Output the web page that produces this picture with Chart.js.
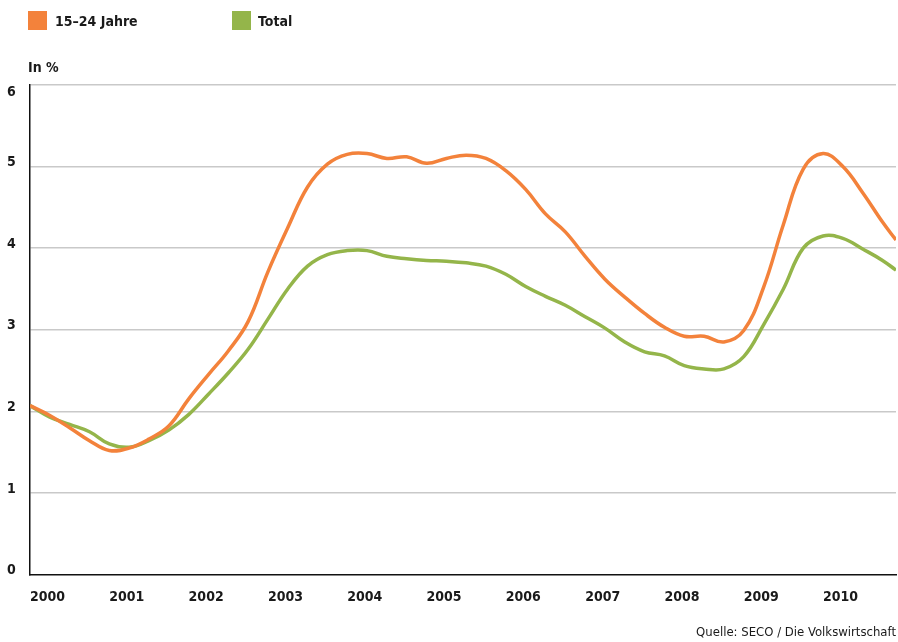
<!DOCTYPE html>
<html lang="de">
<head>
    <meta charset="UTF-8">
    <title>Arbeitslosenquote</title>
    <style>
        body { margin: 0; background: #fff; }
        #wrap { width: 898px; height: 642px; }
    </style>
</head>
<body>
<div id="wrap">
    <canvas id="myChart"></canvas>
</div>

<script src="https://cdn.jsdelivr.net/npm/chart.js"></script>

<script>
    // Zeitpunkte (Quartale, Jahr als Dezimalzahl)
    const times = [
        2000.00, 2000.25, 2000.50, 2000.75,
        2001.00, 2001.25, 2001.50, 2001.75,
        2002.00, 2002.25, 2002.50, 2002.75,
        2003.00, 2003.25, 2003.50, 2003.75,
        2004.00, 2004.25, 2004.50, 2004.75,
        2005.00, 2005.25, 2005.50, 2005.75,
        2006.00, 2006.25, 2006.50, 2006.75,
        2007.00, 2007.25, 2007.50, 2007.75,
        2008.00, 2008.25, 2008.50, 2008.75,
        2009.00, 2009.25, 2009.50, 2009.75,
        2010.00, 2010.25, 2010.50, 2010.75, 2010.92
    ];

    // 15–24 Jahre
    const youth = [
        2.07, 1.95, 1.80, 1.64,
        1.52, 1.55, 1.66, 1.82,
        2.15, 2.45, 2.74, 3.10,
        3.71, 4.25, 4.75, 5.03,
        5.15, 5.16, 5.10, 5.12,
        5.04, 5.10, 5.14, 5.10,
        4.95, 4.72, 4.42, 4.20,
        3.90, 3.62, 3.40, 3.20,
        3.03, 2.92, 2.92, 2.85,
        2.99, 3.52, 4.29, 4.97,
        5.16, 5.00, 4.68, 4.32, 4.10
    ];

    // Total
    const total = [
        2.07, 1.93, 1.84, 1.75,
        1.60, 1.56, 1.64, 1.77,
        1.96, 2.21, 2.47, 2.76,
        3.13, 3.50, 3.78, 3.92,
        3.97, 3.97, 3.90, 3.87,
        3.85, 3.84, 3.82, 3.78,
        3.68, 3.53, 3.41, 3.30,
        3.16, 3.02, 2.85, 2.73,
        2.68, 2.56, 2.52, 2.52,
        2.67, 3.06, 3.50, 4.00,
        4.15, 4.12, 3.99, 3.85, 3.73
    ];

    const yearTicks = [2000, 2001, 2002, 2003, 2004, 2005, 2006, 2007, 2008, 2009, 2010];
    const valueTicks = [0, 1, 2, 3, 4, 5, 6];

    const ORANGE = '#f3823b';
    const GREEN = '#94b54a';
    const FONT = "'DejaVu Sans Condensed', 'DejaVu Sans', sans-serif";

    // Legende, Achsentitel, y-Beschriftung und Quelle
    const decor = {
        id: 'decor',
        afterDraw(chart) {
            const c = chart.ctx;
            const ys = chart.scales.y;
            c.save();
            c.fillStyle = ORANGE;
            c.fillRect(28, 11, 19, 19);
            c.fillStyle = GREEN;
            c.fillRect(232, 11, 19, 19);
            c.fillStyle = '#1a1a1a';
            c.font = 'bold 14px ' + FONT;
            c.textBaseline = 'alphabetic';
            c.textAlign = 'left';
            c.fillText('15–24 Jahre', 55, 26);
            c.fillText('Total', 258, 26);
            c.fillText('In %', 28, 72);
            // y labels sit a little above their gridline, the top one below
            c.textBaseline = 'middle';
            valueTicks.forEach(v => {
                let y = ys.getPixelForValue(v) - 4;
                if (v === ys.max) y = ys.top + 7;
                c.fillText(String(v), 7, y);
            });
            c.font = '13px ' + FONT;
            c.textAlign = 'right';
            c.textBaseline = 'alphabetic';
            c.fillText('Quelle: SECO / Die Volkswirtschaft', 896, 636);
            c.restore();
        }
    };

    const ctx = document.getElementById('myChart');

    new Chart(ctx, {
        type: 'line',
        data: {
            datasets: [
                {
                    label: '15–24 Jahre',
                    data: times.map((t, i) => ({ x: t, y: youth[i] })),
                    borderColor: ORANGE,
                    borderWidth: 3.5,
                    pointRadius: 0,
                    tension: 0.4
                },
                {
                    label: 'Total',
                    data: times.map((t, i) => ({ x: t, y: total[i] })),
                    borderColor: GREEN,
                    borderWidth: 3.5,
                    pointRadius: 0,
                    tension: 0.4
                }
            ]
        },
        options: {
            responsive: true,
            maintainAspectRatio: false,
            animation: false,
            layout: {
                padding: { top: 85, left: 7, right: 2, bottom: 0 }
            },
            scales: {
                x: {
                    type: 'linear',
                    min: times[0],
                    max: times[times.length - 1],
                    afterBuildTicks: scale => {
                        scale.ticks = yearTicks.map(v => ({ value: v }));
                    },
                    afterFit: scale => { scale.height = 67.5; },
                    grid: { display: false, drawTicks: false },
                    border: { display: true, color: '#111', width: 1.5 },
                    ticks: {
                        align: 'start',
                        padding: 14,
                        color: '#1a1a1a',
                        font: { family: FONT, size: 14, weight: 'bold' },
                        callback: v => String(v)
                    }
                },
                y: {
                    min: 0,
                    max: 6,
                    afterBuildTicks: scale => {
                        scale.ticks = valueTicks.map(v => ({ value: v }));
                    },
                    afterFit: scale => { scale.width = 23; },
                    grid: {
                        drawTicks: false,
                        color: c => c.tick.value === 0 ? 'rgba(0,0,0,0)' : '#c9c9c9',
                        lineWidth: 1.4
                    },
                    border: { display: true, color: '#111', width: 1.5 },
                    ticks: { display: false }
                }
            },
            plugins: {
                legend: { display: false },
                tooltip: { enabled: false }
            }
        },
        plugins: [decor]
    });
</script>
</body>
</html>
